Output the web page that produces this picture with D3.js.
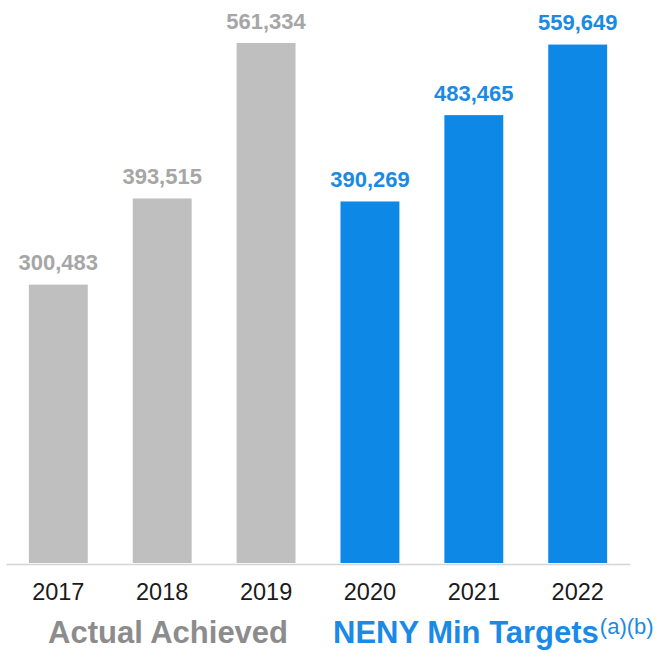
<!DOCTYPE html>
<html>
<head>
<meta charset="utf-8">
<script src="https://cdn.jsdelivr.net/npm/d3@7/dist/d3.min.js"></script>
<style>
  html, body { margin: 0; padding: 0; background: #ffffff; }
  svg { display: block; }
  text { font-family: "Liberation Sans", Arial, Helvetica, sans-serif; }
</style>
</head>
<body>
<svg id="chart" width="660" height="652"></svg>
<script>
// ---- Data ----
const years = ["2017", "2018", "2019", "2020", "2021", "2022"];
const values = [300483, 393515, 561334, 390269, 483465, 559649];
const groups = ["actual", "actual", "actual", "target", "target", "target"];
const legendLabels = ["Actual Achieved", "NENY Min Targets"];
const legendNote = "(a)(b)";

// ---- Styles ----
const barColor = { actual: "#bfbfbf", target: "#0e88e6" };
const labelColor = { actual: "#a6a6a6", target: "#1a8ae2" };
const legendColor = { actual: "#8c8c8c", target: "#1a8ae6" };

const svg = d3.select("#chart");
const baseY = 563;

const x = d3.scaleBand()
  .domain(years)
  .range([6, 630])
  .paddingInner(0.433)
  .paddingOuter(0.22);

const y = d3.scaleLinear()
  .domain([0, d3.max(values)])
  .range([baseY, 43]);

const data = years.map((yr, i) => ({ year: yr, value: values[i], group: groups[i] }));

// Bars
svg.append("g").selectAll("rect")
  .data(data)
  .join("rect")
  .attr("x", d => x(d.year))
  .attr("y", d => y(d.value))
  .attr("width", x.bandwidth())
  .attr("height", d => y(0) - y(d.value))
  .attr("fill", d => barColor[d.group]);

// Value labels
const fmt = d3.format(",");
svg.append("g").selectAll("text")
  .data(data)
  .join("text")
  .attr("x", d => x(d.year) + x.bandwidth() / 2)
  .attr("y", d => y(d.value) - 14.5)
  .attr("text-anchor", "middle")
  .attr("font-size", 22)
  .attr("font-weight", "bold")
  .attr("fill", d => labelColor[d.group])
  .text(d => fmt(d.value));

// X axis
const axis = svg.append("g")
  .attr("transform", `translate(0,${baseY + 1})`)
  .call(d3.axisBottom(x).tickSize(0).tickSizeOuter(0));
axis.select(".domain")
  .attr("stroke", "#d4d4d4")
  .attr("stroke-width", 1.5);
axis.selectAll(".tick text")
  .attr("dy", null)
  .attr("y", 36)
  .attr("font-size", 23.5)
  .attr("font-family", "\"Liberation Sans\", Arial, Helvetica, sans-serif")
  .attr("fill", "#1a1a1a");

// Legend labels
svg.append("text")
  .attr("x", 48)
  .attr("y", 643)
  .attr("font-size", 31)
  .attr("font-weight", "bold")
  .attr("fill", legendColor.actual)
  .text(legendLabels[0]);

const t2 = svg.append("text")
  .attr("x", 333)
  .attr("y", 643)
  .attr("font-size", 31)
  .attr("font-weight", "bold")
  .attr("fill", legendColor.target);
t2.append("tspan").text(legendLabels[1]);
t2.append("tspan")
  .attr("dx", 1)
  .attr("dy", -9)
  .attr("font-size", 22)
  .attr("font-weight", "normal")
  .text(legendNote);
</script>
</body>
</html>
